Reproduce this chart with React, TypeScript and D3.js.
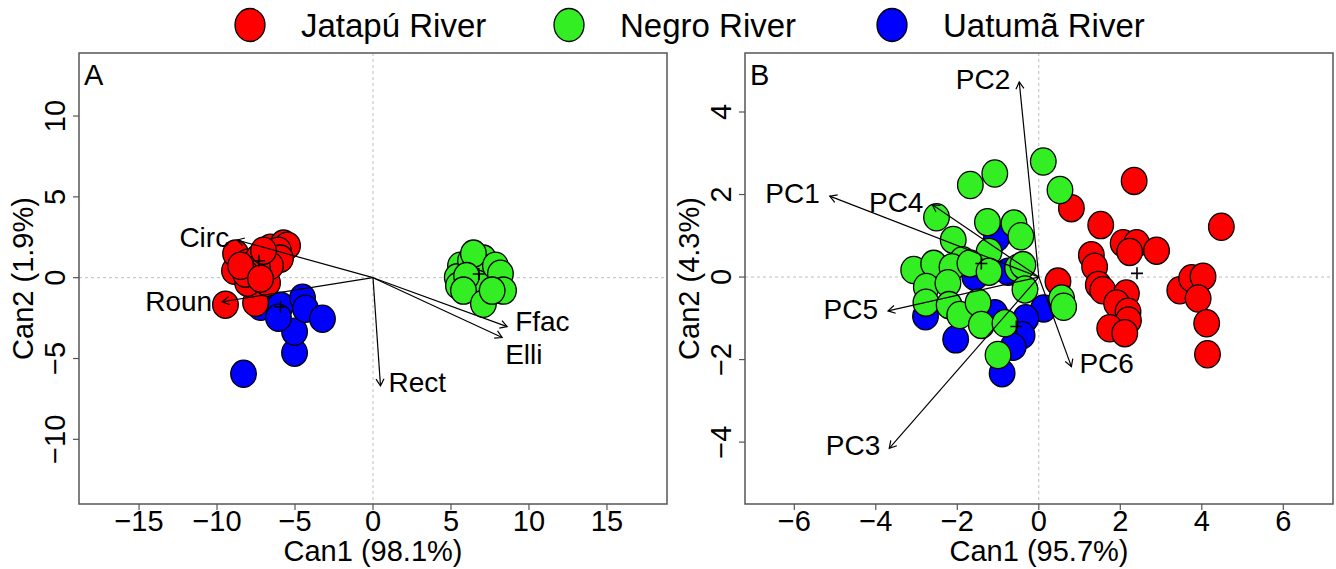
import React from 'react';
import * as d3 from 'd3';

// ---------- data ----------
const groupNames = ['Jatapú River', 'Negro River', 'Uatumã River'];
const groupColors = ['#ff0000', '#33ee22', '#0000ff'];

// Panel A (Can1 98.1%, Can2 1.9%)
const jatapuA: [number, number][] = [
  [-9.46, -1.67], [-7.53, -1.55], [-6.76, -0.31], [-8.88, 0.43], [-8.81, 1.49],
  [-8.04, 0.93], [-7.34, 1.24], [-6.57, 1.86], [-5.74, 2.11], [-5.48, 1.98],
  [-6.06, 1.67], [-5.93, 1.18], [-6.57, 0.74], [-7.40, 0.56], [-8.04, -0.31],
  [-8.17, 0.25], [-7.02, 1.67], [-8.49, 0.74], [-7.21, -0.06],
];
const negroA: [number, number][] = [
  [5.61, 0.74], [5.40, 0.02], [5.48, -0.50], [6.25, 1.05], [7.08, 1.18],
  [7.40, 0.31], [6.89, 0.25], [6.68, -0.37], [6.44, 1.49], [6.00, 0.10],
  [7.85, 0.74], [8.17, 0.25], [5.80, -0.80], [8.37, -0.80], [7.08, -1.61],
  [7.64, -0.80],
];
const uatumaA: [number, number][] = [
  [-8.30, -5.94], [-5.03, -4.64], [-5.03, -3.34], [-7.21, -1.80], [-5.93, -1.73],
  [-4.52, -1.24], [-6.06, -2.48], [-4.33, -1.92], [-3.24, -2.54],
];
const centroidsA: [number, number][] = [[-7.32, 1.05], [6.78, 0.23], [-5.93, -1.80]];
const vectorNamesA = ['Circ', 'Roun', 'Ffac', 'Elli', 'Rect'];
const vectorsA: [number, number][] = [[-8.71, 2.33], [-9.67, -1.49], [8.60, -3.03], [8.28, -3.70], [0.48, -6.69]];
const xTicksA = [-15, -10, -5, 0, 5, 10, 15];
const yTicksA = [-10, -5, 0, 5, 10];

// Panel B (Can1 95.7%, Can2 4.3%)
const jatapuB: [number, number][] = [
  [2.34, 2.33], [0.80, 1.67], [1.52, 1.26], [4.48, 1.22], [2.07, 0.82],
  [2.40, 0.82], [2.89, 0.64], [2.23, 0.61], [1.29, 0.53], [1.37, 0.25],
  [0.47, -0.11], [1.46, -0.19], [1.57, -0.32], [2.15, -0.40], [1.91, -0.64],
  [2.19, -0.84], [2.20, -1.05], [1.74, -1.24], [2.11, -1.36], [3.46, -0.32],
  [3.75, -0.03], [4.03, 0.01], [3.91, -0.52], [4.12, -1.12], [4.14, -1.87],
];
const negroB: [number, number][] = [
  [0.11, 2.80], [-1.08, 2.51], [-1.68, 2.23], [0.52, 2.11], [-2.51, 1.45],
  [-1.26, 1.33], [-0.61, 1.30], [-0.44, 0.99], [-2.10, 0.90], [-1.22, 0.61],
  [-1.87, 0.41], [-0.52, 0.22], [-3.07, 0.17], [-2.58, 0.32], [-2.13, 0.24],
  [-1.69, 0.33], [-1.22, 0.13], [-0.39, 0.29], [-2.76, -0.24], [-2.23, -0.15],
  [-2.77, -0.62], [-2.20, -0.68], [-1.94, -0.92], [-1.49, -0.62], [-1.41, -1.16],
  [-0.83, -1.12], [-0.34, -0.30], [-1.00, -1.89], [0.56, -0.52], [0.61, -0.72],
];
const uatumaB: [number, number][] = [
  [-2.78, -0.95], [-2.04, -1.51], [-1.04, 0.94], [0.12, -0.76], [-0.32, -1.00],
  [-0.41, -1.41], [-0.63, -1.69], [-0.90, -2.33], [-0.75, 0.13], [-1.57, 0.01],
  [-1.08, -0.88],
];
const centroidsB: [number, number][] = [[2.41, 0.09], [-1.41, 0.33], [-0.55, -1.20]];
const vectorNamesB = ['PC1', 'PC2', 'PC3', 'PC4', 'PC5', 'PC6'];
const vectorsB: [number, number][] = [[-5.13, 1.96], [-0.48, 4.73], [-3.67, -4.15], [-2.61, 1.75], [-3.70, -0.82], [0.80, -2.17]];
const xTicksB = [-6, -4, -2, 0, 2, 4, 6];
const yTicksB = [-4, -2, 0, 2, 4];

// ---------- layout / style ----------
const FONT = '"Liberation Sans", Arial, Helvetica, sans-serif';
const AXIS_FS = 29;
const VEC_FS = 28;
const RX = 12.8;
const RY = 13.6;

type LabelPos = { anchor: 'start' | 'end'; dx: number; dy: number };
const labelPosA: LabelPos[] = [
  { anchor: 'end', dx: -8, dy: -3 },
  { anchor: 'end', dx: -10, dy: -1 },
  { anchor: 'start', dx: 8, dy: -5 },
  { anchor: 'start', dx: 3, dy: 17 },
  { anchor: 'start', dx: 8, dy: -4 },
];
const labelPosB: LabelPos[] = [
  { anchor: 'end', dx: -10, dy: -3 },
  { anchor: 'end', dx: -9, dy: -3 },
  { anchor: 'end', dx: -9, dy: -3 },
  { anchor: 'end', dx: -9, dy: -3 },
  { anchor: 'end', dx: -10, dy: -2 },
  { anchor: 'start', dx: 8, dy: -3 },
];

type PanelProps = {
  left: number; right: number; top: number; bottom: number;
  xDomain: [number, number]; yDomain: [number, number];
  xTicks: number[]; yTicks: number[];
  series: [number, number][][]; // in drawing order with colors
  seriesColors: string[];
  centroids: [number, number][];
  vectorNames: string[]; vectors: [number, number][]; labelPos: LabelPos[];
  letter: string; xTitle: string; yTitle: string;
};

function fmt(v: number) {
  return v < 0 ? '\u2212' + Math.abs(v) : String(v);
}

function Panel(p: PanelProps) {
  const x = d3.scaleLinear().domain(p.xDomain).range([p.left, p.right]);
  const y = d3.scaleLinear().domain(p.yDomain).range([p.bottom, p.top]);
  const x0 = x(0), y0 = y(0);
  const head = 8;
  return (
    <g fontFamily={FONT}>
      {/* zero reference lines */}
      <line x1={p.left} x2={p.right} y1={y0} y2={y0} stroke="#bdbdbd" strokeWidth={1} strokeDasharray="3,3" />
      <line x1={x0} x2={x0} y1={p.top} y2={p.bottom} stroke="#bdbdbd" strokeWidth={1} strokeDasharray="3,3" />
      {/* points */}
      {p.series.map((s, si) =>
        s.map((d, i) => (
          <ellipse key={`${si}-${i}`} cx={x(d[0])} cy={y(d[1])} rx={RX} ry={RY}
            fill={p.seriesColors[si]} stroke="#000" strokeWidth={1.3} />
        ))
      )}
      {/* centroids */}
      {p.centroids.map((c, i) => (
        <path key={`c${i}`} d={`M${x(c[0]) - 6},${y(c[1])}H${x(c[0]) + 6}M${x(c[0])},${y(c[1]) - 6}V${y(c[1]) + 6}`}
          stroke="#000" strokeWidth={1.6} />
      ))}
      {/* vectors */}
      {p.vectors.map((v, i) => {
        const tx = x(v[0]), ty = y(v[1]);
        const ang = Math.atan2(ty - y0, tx - x0);
        const a1 = ang + Math.PI - Math.PI / 6;
        const a2 = ang + Math.PI + Math.PI / 6;
        const lp = p.labelPos[i];
        return (
          <g key={`v${i}`}>
            <line x1={x0} y1={y0} x2={tx} y2={ty} stroke="#000" strokeWidth={1.2} />
            <path d={`M${tx + head * Math.cos(a1)},${ty + head * Math.sin(a1)}L${tx},${ty}L${tx + head * Math.cos(a2)},${ty + head * Math.sin(a2)}`}
              fill="none" stroke="#000" strokeWidth={1.2} />
            <text x={tx + lp.dx} y={ty + lp.dy} dy="0.35em" textAnchor={lp.anchor} fontSize={VEC_FS} fill="#000">
              {p.vectorNames[i]}
            </text>
          </g>
        );
      })}
      {/* box */}
      <rect x={p.left} y={p.top} width={p.right - p.left} height={p.bottom - p.top} fill="none" stroke="#555" strokeWidth={1.5} />
      {/* panel letter */}
      <text x={p.left + 5} y={p.top + 32} fontSize={AXIS_FS} fill="#000">{p.letter}</text>
      {/* x axis */}
      {p.xTicks.map((t) => (
        <g key={`xt${t}`}>
          <line x1={x(t)} x2={x(t)} y1={p.bottom} y2={p.bottom + 6} stroke="#555" strokeWidth={1.2} />
          <text x={x(t)} y={p.bottom + 27} textAnchor="middle" fontSize={AXIS_FS} fill="#000">{fmt(t)}</text>
        </g>
      ))}
      <text x={(p.left + p.right) / 2} y={p.bottom + 57} textAnchor="middle" fontSize={AXIS_FS} fill="#000">{p.xTitle}</text>
      {/* y axis */}
      {p.yTicks.map((t) => (
        <g key={`yt${t}`}>
          <line x1={p.left - 6} x2={p.left} y1={y(t)} y2={y(t)} stroke="#555" strokeWidth={1.2} />
          <text transform={`translate(${p.left - 14},${y(t)}) rotate(-90)`} textAnchor="middle" fontSize={AXIS_FS} fill="#000">{fmt(t)}</text>
        </g>
      ))}
      <text transform={`translate(${p.left - 46},${(p.top + p.bottom) / 2}) rotate(-90)`} textAnchor="middle" fontSize={AXIS_FS} fill="#000">{p.yTitle}</text>
    </g>
  );
}

const legendX = [250, 569, 892];

export default function App() {
  return (
    <svg width={1336} height={569} style={{ position: 'absolute', left: 0, top: 0, background: '#fff' }}>
      <rect width={1336} height={569} fill="#fff" />
      {/* legend */}
      <g fontFamily={FONT}>
        {groupNames.map((g, i) => (
          <g key={g}>
            <ellipse cx={legendX[i]} cy={25} rx={15} ry={16.5} fill={groupColors[i]} stroke="#000" strokeWidth={1.3} />
            <text x={legendX[i] + 51} y={37} fontSize={33} fill="#000">{g}</text>
          </g>
        ))}
      </g>
      <Panel left={79} right={667} top={53} bottom={504}
        xDomain={[-18.85, 18.85]} yDomain={[-14.0, 13.9]}
        xTicks={xTicksA} yTicks={yTicksA}
        series={[uatumaA, jatapuA, negroA]} seriesColors={[groupColors[2], groupColors[0], groupColors[1]]}
        centroids={centroidsA} vectorNames={vectorNamesA} vectors={vectorsA} labelPos={labelPosA}
        letter="A" xTitle="Can1 (98.1%)" yTitle="Can2 (1.9%)" />
      <Panel left={745} right={1333} top={53} bottom={504}
        xDomain={[-7.21, 7.22]} yDomain={[-5.5, 5.43]}
        xTicks={xTicksB} yTicks={yTicksB}
        series={[uatumaB, jatapuB, negroB]} seriesColors={[groupColors[2], groupColors[0], groupColors[1]]}
        centroids={centroidsB} vectorNames={vectorNamesB} vectors={vectorsB} labelPos={labelPosB}
        letter="B" xTitle="Can1 (95.7%)" yTitle="Can2 (4.3%)" />
    </svg>
  );
}
